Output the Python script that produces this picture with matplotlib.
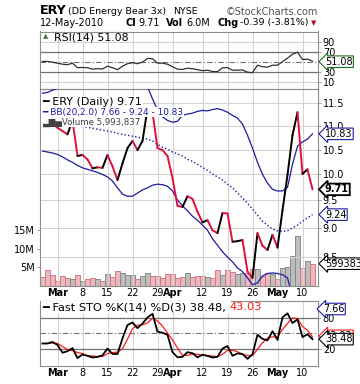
import matplotlib
matplotlib.use('Agg')
import matplotlib.pyplot as plt
import matplotlib.transforms as mtrans
from matplotlib.ticker import FixedLocator, FixedFormatter, NullLocator

# ---- data (55 trading days, 24-Feb-2010 .. 12-May-2010) ----
close = [11.25, 11.15, 11.05, 10.96, 10.89, 10.82, 11.12, 10.37, 10.39, 10.30,
         10.12, 10.14, 10.13, 10.39, 10.16, 9.89, 10.22, 10.53, 10.68, 10.49,
         10.68, 11.38, 11.30, 10.53, 10.49, 10.37, 9.93, 9.40, 9.38, 9.58,
         9.53, 9.29, 9.10, 9.14, 8.96, 8.91, 9.27, 9.26, 8.76, 8.77,
         8.79, 8.26, 8.16, 8.91, 8.69, 8.62, 8.88, 8.66, 9.32, 9.99,
         10.80, 11.30, 10.01, 10.10, 9.71]
bb_upper = [11.73, 11.75, 11.80, 11.84, 11.95, 12.00, 12.05, 12.10, 12.10, 12.10,
            12.05, 12.00, 11.98, 11.95, 11.95, 11.90, 11.92, 11.95, 11.95, 11.95,
            11.95, 11.88, 11.60, 11.35, 11.20, 11.12, 11.08, 11.10, 11.23, 11.26,
            11.28, 11.32, 11.34, 11.33, 11.36, 11.38, 11.35, 11.30, 11.23, 11.17,
            11.04, 10.80, 10.53, 10.24, 10.00, 9.83, 9.71, 9.68, 9.68, 9.75,
            10.20, 10.57, 10.66, 10.72, 10.83]
bb_mid = [11.08, 11.08, 11.07, 11.06, 11.05, 11.03, 11.02, 11.01, 10.99, 10.97,
          10.95, 10.93, 10.91, 10.89, 10.87, 10.84, 10.82, 10.80, 10.78, 10.76,
          10.74, 10.72, 10.68, 10.61, 10.55, 10.51, 10.45, 10.41, 10.37, 10.30,
          10.26, 10.20, 10.14, 10.08, 10.01, 9.95, 9.89, 9.81, 9.74, 9.64,
          9.55, 9.45, 9.34, 9.23, 9.12, 9.05, 8.98, 8.95, 8.94, 8.95,
          9.00, 9.05, 9.12, 9.18, 9.24]
bb_lower = [10.47, 10.45, 10.43, 10.40, 10.35, 10.29, 10.24, 10.18, 10.13, 10.10,
            10.07, 10.04, 10.00, 9.95, 9.87, 9.74, 9.62, 9.58, 9.58, 9.64,
            9.70, 9.74, 9.79, 9.81, 9.80, 9.77, 9.68, 9.51, 9.40, 9.31,
            9.21, 9.14, 9.05, 8.96, 8.81, 8.70, 8.59, 8.50, 8.42, 8.32,
            8.26, 8.16, 8.05, 8.08, 8.19, 8.23, 8.24, 8.23, 8.21, 8.16,
            7.85, 7.70, 7.66, 7.65, 7.66]
volume_m = [2.5, 4.2, 3.0, 1.35, 2.6, 2.2, 1.8, 3.0, 1.35, 1.8,
            2.1, 1.8, 1.35, 3.2, 2.4, 4.05, 3.5, 3.0, 3.0, 1.8,
            2.7, 3.5, 2.8, 2.6, 2.1, 3.2, 3.2, 2.1, 2.4, 3.6,
            2.4, 2.6, 2.7, 2.4, 2.1, 4.2, 2.9, 4.2, 3.8, 3.2,
            3.6, 3.6, 4.5, 4.5, 2.7, 3.5, 3.2, 1.8, 4.8, 5.1,
            8.1, 13.5, 4.8, 6.7, 5.99]
rsi = [50.5, 50.5, 49, 47, 45, 44, 47, 38, 38.5, 38,
       35, 36, 35.5, 41, 38, 34, 41, 46, 48, 46,
       49, 56.5, 56, 47, 47, 45, 40, 35, 34.5, 37,
       36, 34, 32, 33, 30.5, 30, 38, 38, 33, 33,
       33.5, 29, 28, 43, 40, 39, 43, 43, 50, 57,
       65, 69, 54.5, 55, 51.08]
sto_k = [30, 30, 33, 27, 12, 15, 21, 1.5, 8.5, 6,
         2.5, 4, 7, 20, 9.5, 9.5, 40, 66, 71, 60,
         69, 81, 88, 53, 51, 47, 13, 3, 4, 13,
         11, 3, 8, 6, 2.5, 4, 20, 25, 6, 10.5,
         9.5, 0, 9, 47, 39, 36, 54, 37, 81, 89,
         70, 77, 42.6, 48, 38.48]
sto_d = [30, 30, 31, 30, 24, 18, 16, 12.5, 10.3, 5.3,
         5.7, 4.2, 4.5, 10.3, 12.2, 13, 19.7, 38.5, 59, 65.7,
         66.7, 70, 79.3, 74, 64, 50.3, 37, 21, 6.7, 6.7,
         9.3, 9, 7.3, 5.7, 5.5, 4.2, 8.8, 16.3, 17, 13.8,
         8.7, 6.7, 6.2, 18.7, 31.7, 40.7, 43, 42.3, 57.3, 69,
         80, 78.7, 63.2, 55.9, 43.03]

tick_pos = [3, 8, 13, 18, 23, 26, 32, 37, 42, 47, 52]
tick_labels = ['Mar', '8', '15', '22', '29', 'Apr', '12', '19', '26', 'May', '10']
price_ticks = [8.5, 9.0, 9.5, 10.0, 10.5, 11.0, 11.5]

RED = '#e0103c'
BLUE = '#1c1ca0'
GRID = '#d4d4d4'
SPINE = '#8c8c8c'
W, H = 360, 384

fig = plt.figure(figsize=(W / 100, H / 100), dpi=100)
fig.patch.set_facecolor('white')


def axes_px(x0, y0, x1, y1):
	return fig.add_axes([x0 / W, 1 - y1 / H, (x1 - x0) / W, (y1 - y0) / H])


def fig_text(x, y, s, **kw):
	kw.setdefault('va', 'center')
	kw.setdefault('fontsize', 6.5)
	return fig.text(x / W, 1 - y / H, s, **kw)


def style_axes(ax, show_dates):
	for sp in ax.spines.values():
		sp.set_color(SPINE)
		sp.set_linewidth(0.8)
	ax.set_xlim(-0.5, 55.1)
	ax.xaxis.set_major_locator(FixedLocator(tick_pos))
	ax.tick_params(axis='x', length=0, pad=1.5, labelsize=7)
	if show_dates:
		ax.set_xticklabels(tick_labels)
		for lab in ax.get_xticklabels():
			if lab.get_text() in ('Mar', 'Apr', 'May'):
				lab.set_fontweight('bold')
	else:
		ax.set_xticklabels([])
	for p in tick_pos:
		ax.axvline(p, color=GRID, lw=0.8, zorder=0)
	ax.yaxis.tick_right()
	ax.tick_params(axis='y', length=2, width=0.6, color=SPINE, pad=1.5, labelsize=7)


def tag(ax, y, s, ec, bold=False, lw=0.8, z=10):
	tr = mtrans.blended_transform_factory(ax.transAxes, ax.transData)
	ax.text(1.025, y, s, transform=tr, fontsize=7, va='center', ha='left',
	        fontweight='bold' if bold else 'normal', clip_on=False, zorder=z,
	        bbox=dict(boxstyle='larrow,pad=0.08', fc='white', ec=ec, lw=lw))


x = list(range(len(close)))

# ---------------- RSI panel ----------------
ax_r = axes_px(40, 31.5, 318, 88.5)
style_axes(ax_r, False)
ax_r.set_ylim(-3.6, 110.4)
ax_r.yaxis.set_major_locator(FixedLocator([10, 30, 70, 90]))
ax_r.yaxis.set_major_formatter(FixedFormatter(['10', '30', '70', '90']))
for lvl in (10, 90):
	ax_r.axhline(lvl, color=GRID, lw=0.8, zorder=0)
for lvl in (30, 70):
	ax_r.axhline(lvl, color='#707070', lw=0.9, zorder=1)
ax_r.axhline(50, color='#707070', lw=0.8, ls=(0, (5, 2, 1, 2)), zorder=1)
ax_r.plot(x, rsi, color='#303030', lw=0.9, zorder=3)
tag(ax_r, 50, '51.08', '#1a6b1a')
fig_text(43, 36.5, '\u25b2', fontsize=5, color='#4a7a4a')
fig_text(54, 37, 'RSI(14) 51.08', fontsize=7.8)

# ---------------- price panel ----------------
ax_p = axes_px(40, 88.5, 318, 286)
ax_v = ax_p.twinx()
ax_p.set_zorder(ax_v.get_zorder() + 1)
ax_p.patch.set_visible(False)

ax_v.set_xlim(-0.5, 55.1)
ax_v.set_ylim(0, 53)
vol_colors = []
for i in range(len(close)):
	up = i > 0 and close[i] >= close[i - 1]
	vol_colors.append(('#bdbdbd', '#8a8a8a') if up else ('#ecb8be', '#d27a86'))
ax_v.bar(x, volume_m, width=1.0, color=[c[0] for c in vol_colors],
         edgecolor=[c[1] for c in vol_colors], linewidth=0.7, zorder=2)
ax_v.yaxis.tick_left()
ax_v.yaxis.set_major_locator(FixedLocator([5, 10, 15]))
ax_v.yaxis.set_major_formatter(FixedFormatter(['5M', '10M', '15M']))
ax_v.tick_params(axis='y', length=2, width=0.6, color=SPINE, pad=1.5, labelsize=7)
for sp in ax_v.spines.values():
	sp.set_visible(False)

style_axes(ax_p, True)
ax_p.set_yscale('log')
ax_p.set_ylim(8.03, 11.84)
ax_p.yaxis.set_major_locator(FixedLocator(price_ticks))
ax_p.yaxis.set_major_formatter(FixedFormatter(['%.1f' % t for t in price_ticks]))
ax_p.yaxis.set_minor_locator(NullLocator())
for t in price_ticks:
	ax_p.axhline(t, color=GRID, lw=0.8, zorder=0)

ax_p.plot(x, bb_upper, color=BLUE, lw=0.9, zorder=3)
ax_p.plot(x, bb_lower, color=BLUE, lw=0.9, zorder=3)
ax_p.plot(x, bb_mid, color=BLUE, lw=1.0, ls=(0, (1, 1.6)), zorder=3)
for i in range(1, len(close)):
	col = 'black' if close[i] >= close[i - 1] else RED
	ax_p.plot([i - 1, i], [close[i - 1], close[i]], color=col, lw=1.4,
	          solid_capstyle='round', zorder=4)

tag(ax_p, 10.83, '10.83', BLUE)
tag(ax_p, 9.71, '9.71', 'black', bold=True, lw=1.3)
tag(ax_p, 9.24, '9.24', BLUE)
tv = mtrans.blended_transform_factory(ax_p.transAxes, ax_v.transData)
ax_v.text(1.025, 5.99, '5993837', transform=tv, fontsize=7, va='center', clip_on=False,
          zorder=10, bbox=dict(boxstyle='larrow,pad=0.08', fc='white', ec='black', lw=0.8))

lg = dict(va='center', zorder=12, bbox=dict(boxstyle='square,pad=0.1', fc='white', ec='none'))
fig_text(42, 102, '\u2501 ERY (Daily) 9.71', color='black', fontsize=8, **lg)
fig_text(42, 112, '\u2501 BB(20,2.0) 7.66 - 9.24 - 10.83', color=BLUE, fontsize=6.4, **lg)
fig_text(42, 122, '\u2583\u2587\u2585Volume 5,993,837', color='#404040', fontsize=6.2, **lg)

# ---------------- stochastic panel ----------------
ax_s = axes_px(40, 300.5, 318, 366)
style_axes(ax_s, True)
ax_s.set_ylim(-14, 114)
ax_s.yaxis.set_major_locator(FixedLocator([20, 80]))
ax_s.yaxis.set_major_formatter(FixedFormatter(['20', '80']))
for lvl in (20, 80):
	ax_s.axhline(lvl, color='#707070', lw=0.9, zorder=1)
ax_s.axhline(50, color='#707070', lw=0.8, ls=(0, (5, 2, 1, 2)), zorder=1)
ax_s.plot(x, sto_d, color='#ff1a1a', lw=0.9, zorder=3)
ax_s.plot(x, sto_k, color='black', lw=1.3, zorder=4)
tag(ax_s, 45, '43.03', '#ff1a1a', z=10)
tag(ax_s, 38.48, '38.48', 'black', z=11)
fig_text(323, 309, '7.66', fontsize=7,
         bbox=dict(boxstyle='larrow,pad=0.08', fc='white', ec=BLUE, lw=0.8))
sto_txt = fig_text(42, 307, '\u2501 Fast STO %K(14) %D(3) 38.48, ', fontsize=8.2, zorder=12,
                   bbox=dict(boxstyle='square,pad=0.1', fc='white', ec='none'))
renderer = fig.canvas.get_renderer()
x_end = sto_txt.get_window_extent(renderer).x1
fig_text(x_end, 307, '43.03', fontsize=8.2, color='#ff1a1a', zorder=12)

# ---------------- header ----------------
fig_text(40, 11, 'ERY', fontsize=9.2, fontweight='bold')
fig_text(68, 12, '(DD Energy Bear 3x)', fontsize=6.8)
fig_text(173, 12, 'NYSE', fontsize=6.8)
fig_text(318, 12, '\u00a9StockCharts.com', fontsize=7, ha='right', color='#505050')
fig_text(40, 23, '12-May-2010', fontsize=7)
fig_text(126, 23, 'Cl', fontsize=7, fontweight='bold')
fig_text(138, 23, '9.71', fontsize=7)
fig_text(166, 23, 'Vol', fontsize=7, fontweight='bold')
fig_text(186, 23, '6.0M', fontsize=7)
fig_text(217, 23, 'Chg', fontsize=7, fontweight='bold')
fig_text(240, 23, '-0.39 (-3.81%)', fontsize=6.8)
fig_text(311, 23, '\u25bc', fontsize=5, color='#b0102a')

fig.savefig('out.png', dpi=100)
